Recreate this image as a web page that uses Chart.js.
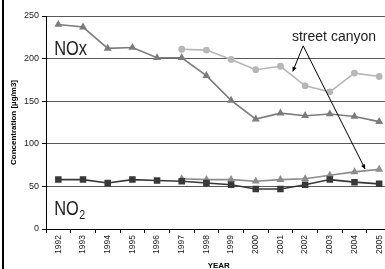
<!DOCTYPE html>
<html>
<head>
<meta charset="utf-8">
<script src="https://cdn.jsdelivr.net/npm/chart.js@4/dist/chart.umd.min.js"></script>
<style>
  html, body { margin: 0; padding: 0; background: #fff; overflow: hidden; width: 385px; height: 269px; }
  canvas { display: block; }
</style>
</head>
<body>
<canvas id="chart" width="400" height="269"></canvas>
<script>
const years = ['1992', '1993', '1994', '1995', '1996', '1997', '1998',
               '1999', '2000', '2001', '2002', '2003', '2004', '2005'];

// NOx, urban background (dark grey triangles)
const noxUrban  = [240, 237, 212, 213, 201, 201, 180, 151, 129, 136, 133, 135, 132, 126];
// NOx, street canyon (light grey circles)
const noxStreet = [null, null, null, null, null, 211, 210, 199, 187, 191, 168, 161, 183, 179];
// NO2, urban background (black squares)
const no2Urban  = [58, 58, 54, 58, 57, 56, 54, 52, 47, 47, 52, 58, 55, 53];
// NO2, street canyon (grey triangles)
const no2Street = [null, null, null, null, null, 59, 58, 58, 56, 58, 59, 63, 67, 70];

const yTicks = [0, 50, 100, 150, 200, 250];

const FONT = '"Liberation Sans", Arial, sans-serif';

function series(data, color, style, radius, width) {
  return {
    data,
    borderColor: color,
    backgroundColor: color,
    borderWidth: width,
    pointStyle: style,
    pointRadius: radius,
    pointBorderWidth: 0,
    pointBackgroundColor: color,
    tension: 0,
  };
}

function arrow(ctx, x0, y0, x1, y1) {
  ctx.beginPath();
  ctx.moveTo(x0, y0);
  ctx.lineTo(x1, y1);
  ctx.stroke();
  const a = Math.atan2(y1 - y0, x1 - x0);
  const len = 5, half = 0.45;
  ctx.beginPath();
  ctx.moveTo(x1, y1);
  ctx.lineTo(x1 - len * Math.cos(a - half), y1 - len * Math.sin(a - half));
  ctx.lineTo(x1 - len * Math.cos(a + half), y1 - len * Math.sin(a + half));
  ctx.closePath();
  ctx.fill();
}

// condensed text, like the narrow face in the original
function narrowText(ctx, text, x, y, size, subText, subSize) {
  ctx.save();
  ctx.translate(x, y);
  ctx.scale(0.82, 1);
  ctx.font = `${size}px ${FONT}`;
  ctx.fillText(text, 0, 0);
  if (subText) {
    const w = ctx.measureText(text).width;
    ctx.font = `${subSize}px ${FONT}`;
    ctx.fillText(subText, w + 0.5, 4);
  }
  ctx.restore();
}

// frame line on the left and the text notes on the plot
const notes = {
  id: 'notes',
  beforeDraw(chart) {
    const ctx = chart.ctx;
    ctx.save();
    ctx.fillStyle = '#000';
    ctx.fillRect(2, 0, 2, chart.height);
    ctx.restore();
  },
  afterDatasetsDraw(chart) {
    const { ctx, scales: { x, y } } = chart;
    const px = i => x.getPixelForValue(i);
    const py = v => y.getPixelForValue(v);
    ctx.save();
    ctx.fillStyle = '#222';
    ctx.textBaseline = 'alphabetic';
    ctx.textAlign = 'left';

    narrowText(ctx, 'NOx', px(-0.17), py(204), 20);
    narrowText(ctx, 'NO', px(-0.17), py(16.4), 20, '2', 13);

    ctx.font = `14px ${FONT}`;
    ctx.textAlign = 'center';
    ctx.fillText('street canyon', px(11.17), py(220.5));

    ctx.strokeStyle = '#000';
    ctx.fillStyle = '#000';
    ctx.lineWidth = 1;
    const sx = px(9.92), sy = py(215);
    arrow(ctx, sx, sy, px(9.5), py(185));
    arrow(ctx, sx, sy, px(12.43), py(70.5));
    ctx.restore();
  },
};

new Chart(document.getElementById('chart'), {
  type: 'line',
  data: {
    labels: years,
    datasets: [
      series(no2Urban,  '#383838', 'rect',     4.6, 1.6),
      series(no2Street, '#8c8c8c', 'triangle', 4.6, 1.6),
      series(noxUrban,  '#7c7c7c', 'triangle', 4.6, 1.6),
      series(noxStreet, '#b6b6b6', 'circle',   3.4, 1.6),
    ],
  },
  options: {
    responsive: false,
    animation: false,
    devicePixelRatio: 1,
    layout: { padding: { left: 0, top: 16, right: 8.5, bottom: 0 } },
    plugins: { legend: { display: false }, tooltip: { enabled: false } },
    scales: {
      x: {
        offset: true,
        afterFit: s => { s.height = 40; },
        grid: {
          display: true, offset: true, drawOnChartArea: false,
          drawTicks: true, tickLength: 4, tickColor: '#000',
        },
        border: { display: true, color: '#000', width: 1 },
        ticks: {
          minRotation: 90, maxRotation: 90, autoSkip: false, padding: 2,
          color: '#222', font: { family: FONT, size: 8.5 },
        },
        title: {
          display: true, text: 'YEAR', color: '#000',
          font: { family: FONT, size: 8, weight: 'bold' },
          padding: { top: 0, bottom: -2 },
        },
      },
      y: {
        min: 0, max: 250,
        afterFit: s => { s.width = 46; },
        afterBuildTicks: s => { s.ticks = yTicks.map(v => ({ value: v })); },
        grid: {
          color: '#5a5a5a', lineWidth: 1,
          drawTicks: true, tickLength: 4, tickColor: '#000',
        },
        border: { display: true, color: '#000', width: 1 },
        ticks: {
          padding: 3, color: '#222', font: { family: FONT, size: 9 },
        },
        title: {
          display: true, text: 'Concentration [µg/m3]', color: '#000',
          font: { family: FONT, size: 8, weight: 'bold' },
          padding: { top: 9, bottom: 0 },
        },
      },
    },
  },
  plugins: [notes],
});
</script>
</body>
</html>
